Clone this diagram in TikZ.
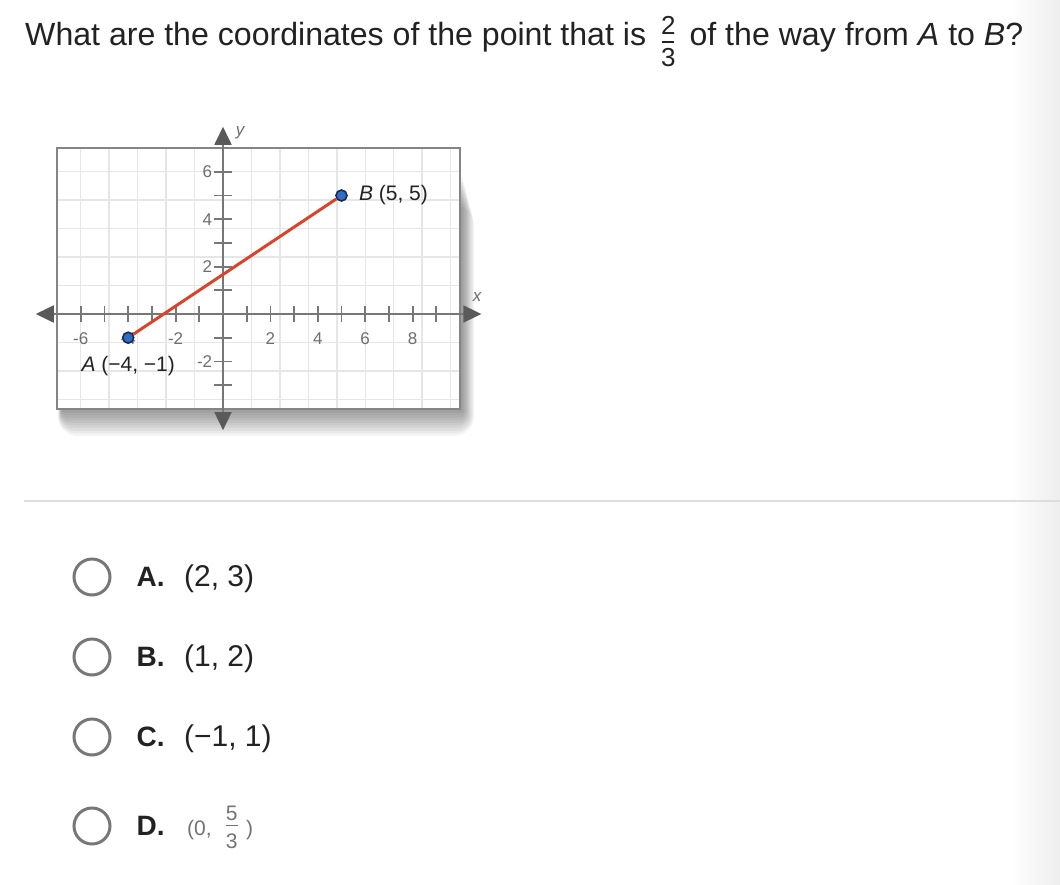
\documentclass[tikz,border=0pt]{standalone}
\usepackage{fontspec}
\setmainfont{Liberation Sans}
\usetikzlibrary{positioning,arrows.meta}

\definecolor{inkdark}{HTML}{222222}
\definecolor{gridgray}{HTML}{E6E6E6}
\definecolor{axisgray}{HTML}{777777}
\definecolor{tipgray}{HTML}{5A5A5A}
\definecolor{framegray}{HTML}{858585}
\definecolor{labelgray}{HTML}{6E6E6E}
\definecolor{segred}{HTML}{D9442B}
\definecolor{dotblue}{HTML}{2F6DC6}
\definecolor{dotnavy}{HTML}{1B2B4B}
\definecolor{radiogray}{HTML}{777777}
\definecolor{rulegray}{HTML}{DDDDDD}

\tikzset{
	question/.style={font=\fontsize{32.1}{32.1}\selectfont, text=inkdark, inner sep=0pt},
	qfrac/.style={font=\fontsize{26}{26}\selectfont, text=inkdark, inner sep=0pt},
	gridline/.style={line width=1.5pt, color=gridgray},
	axisline/.style={line width=1.8pt, color=axisgray},
	axisarrow/.style={axisline, >={Triangle[length=18pt,width=17pt,color=tipgray]}, <->},
	ticklabel/.style={font=\fontsize{17}{17}\selectfont, text=labelgray, inner sep=0pt},
	axislabel/.style={font=\fontsize{17}{17}\selectfont\itshape, text=labelgray, inner sep=0pt},
	pointdot/.style={circle, fill=dotblue, draw=dotnavy, line width=1.6pt, minimum size=11pt, inner sep=0pt},
	segment/.style={line width=3pt, color=segred},
	pointlabel/.style={font=\fontsize{21}{21}\selectfont, text=inkdark, inner sep=0pt},
	radio/.style={circle, draw=radiogray, line width=3pt, minimum size=36pt, inner sep=0pt},
	choicetag/.style={font=\fontsize{28}{28}\selectfont\bfseries, text=inkdark, inner sep=0pt},
	choiceval/.style={font=\fontsize{30}{30}\selectfont, text=inkdark, inner sep=0pt},
	faintval/.style={font=\fontsize{21}{21}\selectfont, text=black!55, inner sep=0pt},
}

\begin{document}
\begin{tikzpicture}[x=1pt, y=-1pt]
			%%%%% PAGE %%%%%
			\fill[white] (0,0) rectangle (1060,884);
			\useasboundingbox (0,0) rectangle (1060,884);
			\shade[left color=white, right color=black!7] (1010,0) rectangle (1060,884);
			
			%%%%% QUESTION %%%%%
			\node[question, anchor=base west] (q1) at (25,45) {What are the coordinates of the point that is};
			\coordinate (qf) at ([xshift=22pt, yshift=3pt]q1.base east);
			\draw[inkdark, line width=1.3pt] ([xshift=-6pt]qf) -- ([xshift=6pt]qf);
			\node[qfrac, above=7pt of qf] {2};
			\node[qfrac, below=6pt of qf] {3};
			\node[question, anchor=base west] (q2) at ([xshift=43pt]q1.base east) {of the way from \textit{A} to \textit{B}?};
			
			%%%%% GRAPH %%%%%
			\foreach \k in {1,...,10}
				\fill[black, opacity=0.045, rounded corners=2*\k pt] (62-0.4*\k,175+3*\k) rectangle (462+1.2*\k,410+2.6*\k);
			
			\begin{scope}[xshift=223pt, yshift=-314pt, x=23.7pt, y=23.7pt]
				\fill[white] (-7,-4) rectangle (10,7);
				\draw[gridline] (-7,-4) grid (10,7);
				\draw[framegray, line width=2pt] (-7,-4) rectangle (10,7);
				
				\draw[axisarrow] (-7.9,0) -- (10.9,0);
				\draw[axisarrow] (0,-4.9) -- (0,7.9);
				\foreach \i in {-6,...,-1,1,2,...,9}
					\draw[axisline] (\i,-0.34) -- (\i,0.34);
				\foreach \j in {-3,-2,-1,1,2,...,6}
					\draw[axisline] (-0.36,\j) -- (0.36,\j);
				
				\foreach \i in {-6,-4,-2,2,4,6,8}
					\node[ticklabel] at (\i,-1.05) {\i};
				\foreach \j in {-2,2,4,6}
					\node[ticklabel, anchor=east] at (-0.45,\j) {\j};
				\node[axislabel] at (0.72,7.64) {y};
				\node[axislabel] at (10.72,0.72) {x};
				
				\node[pointdot] (A) at (-4,-1) {};
				\node[pointdot] (B) at (5,5) {};
				\draw[segment] (A) -- (B);
				\node[pointlabel, right=11pt of B] {\textit{B} (5, 5)};
				\node[pointlabel, below=12pt of A] {\textit{A} (−4, −1)};
			\end{scope}
			
			\draw[rulegray, line width=2pt] (24,500.5) -- (1060,500.5);
			
			%%%%% CHOICES %%%%%
			\foreach \tag/\yy/\val in {A/577/{(2, 3)}, B/657/{(1, 2)}, C/737/{(−1, 1)}}{
				\node[radio] (r\tag) at (92,\yy) {};
				\node[choicetag, right=25pt of r\tag] (t\tag) {\tag.};
				\node[choiceval, base right=19pt of t\tag] (v\tag) {\val};
			}
			
			\node[radio] (rD) at (92,826) {};
			\node[choicetag, right=25pt of rD] (tD) {D.};
			\node[faintval, base right=22pt of tD] (vD) {(0,};
			\coordinate (df) at ([xshift=20pt, yshift=5pt]vD.east);
			\draw[black!55, line width=1pt] ([xshift=-6pt]df) -- ([xshift=6pt]df);
			\node[faintval, above=4pt of df] {5};
			\node[faintval, below=8pt of df] {3};
			\node[faintval, base right=34pt of vD] {)};
			
			%%%%% END %%%%%
\end{tikzpicture}
\end{document}
